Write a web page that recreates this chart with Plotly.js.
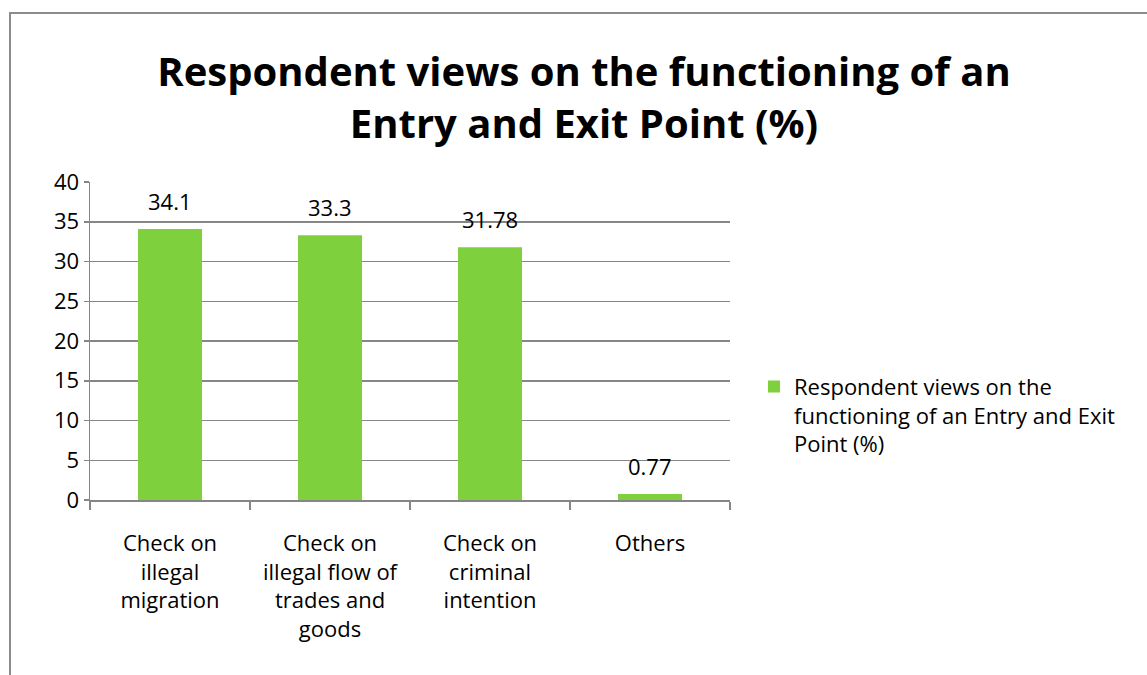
<!DOCTYPE html>
<html><head><meta charset="utf-8">
<script src="https://cdn.plot.ly/plotly-3.0.1.min.js"></script>
<style>
html,body{margin:0;padding:0;background:#fff;overflow:hidden;}
#frame{position:absolute;left:9px;top:12px;width:1150px;height:680px;border:2px solid #8c8c8c;box-sizing:border-box;pointer-events:none;z-index:5;}
#chart{position:absolute;left:0;top:0;width:1147px;height:675px;}
</style></head>
<body>
<div id="chart"></div>
<div id="frame"></div>
<script>
const categories = ["Check on<br>illegal<br>migration", "Check on<br>illegal flow of<br>trades and<br>goods", "Check on<br>criminal<br>intention", "Others"];
const values = [34.1, 33.3, 31.78, 0.77];
const valueLabels = ["34.1", "33.3", "31.78", "0.77"];
const seriesName = "Respondent views on the<br>functioning of an Entry and Exit<br>Point (%)";
const yTicks = [0, 5, 10, 15, 20, 25, 30, 35, 40];

const font = "Open Sans, Noto Sans, sans-serif";
const trace = {
  type: "bar", x: categories, y: values, name: seriesName,
  marker: {color: "#7ed03c"}, showlegend: true, hoverinfo: "none"
};
const annotations = categories.map((c, i) => ({
  x: c, y: values[i], text: valueLabels[i], showarrow: false,
  yanchor: "bottom", yshift: 11, font: {family: font, size: 22, color: "#000"}
}));
const layout = {
  width: 1147, height: 675,
  margin: {l: 90, r: 417, t: 182, b: 175, autoexpand: false},
  paper_bgcolor: "#fff", plot_bgcolor: "#fff",
  title: {text: "<b>Respondent views on the functioning of an<br>Entry and Exit Point (%)</b>",
    font: {family: font, size: 40, color: "#000"}, x: 584/1147, xanchor: "center",
    yref: "container", y: 1 - 86/675, yanchor: "top"},
  bargap: 0.6,
  xaxis: {showgrid: false, showline: true, linecolor: "#868686", linewidth: 1.5,
    ticks: "outside", tickson: "boundaries", ticklen: 8, tickcolor: "#868686", tickwidth: 1.5,
    tickangle: 0, automargin: false,
    tickfont: {family: font, size: 22, color: "#000"}, ticklabelstandoff: 23},
  yaxis: {range: [0, 40], tickvals: yTicks, showgrid: true, gridcolor: "#868686", gridwidth: 1.5,
    showline: true, linecolor: "#868686", linewidth: 1.5, zeroline: false, automargin: false,
    ticks: "outside", ticklen: 5, tickcolor: "#868686", tickwidth: 1.5,
    tickfont: {family: font, size: 22, color: "#000"}},
  showlegend: true,
  legend: {x: 1.0375, xanchor: "left", y: 0.422, yanchor: "top", valign: "top",
    font: {family: font, size: 22, color: "#000"}, itemwidth: 30},
  annotations: annotations
};
Plotly.newPlot("chart", [trace], layout, {displayModeBar: false, staticPlot: true});
</script>
</body></html>
